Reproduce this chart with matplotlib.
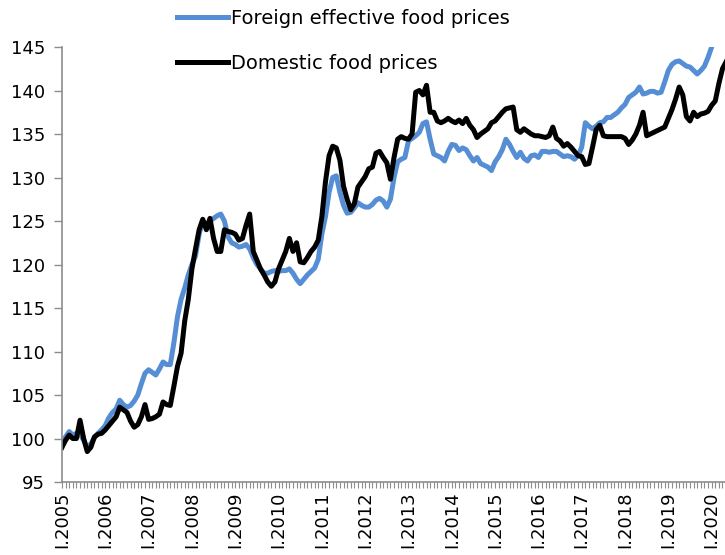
import matplotlib.pyplot as plt
from matplotlib.ticker import MultipleLocator, FixedLocator
import numpy as np

# monthly index values, Jan 2005 onwards
foreign = [
    99.0, 100.2, 100.8, 100.4, 100.6, 100.5, 99.8, 99.0, 99.4, 100.1, 100.6, 101.0,   # 2005
    101.5, 102.4, 103.0, 103.4, 104.4, 103.9, 103.6, 103.8, 104.3, 105.0, 106.3, 107.5,  # 2006
    107.9, 107.6, 107.3, 108.0, 108.8, 108.5, 108.5, 111.0, 114.0, 116.0, 117.3, 118.8,  # 2007
    120.0, 121.0, 123.5, 125.0, 124.6, 125.0, 125.3, 125.6, 125.8, 125.0, 123.2, 122.5,  # 2008
    122.3, 122.0, 122.1, 122.3, 121.8, 120.8, 120.0, 119.5, 119.0, 119.0, 119.2, 119.3,  # 2009
    119.2, 119.3, 119.3, 119.5, 119.0, 118.3, 117.8, 118.3, 118.8, 119.2, 119.6, 120.6,  # 2010
    123.5, 125.5, 128.3, 130.0, 130.2, 128.3, 126.8, 125.9, 126.0, 126.5, 127.1, 126.8,  # 2011
    126.6, 126.6, 126.9, 127.4, 127.6, 127.3, 126.6, 127.5, 130.0, 131.8, 132.1, 132.3,  # 2012
    134.2, 134.5, 134.8, 135.2, 136.2, 136.4, 134.4, 132.7, 132.5, 132.3, 131.9, 133.0,  # 2013
    133.8, 133.7, 133.1, 133.4, 133.2, 132.5, 131.9, 132.3, 131.6, 131.4, 131.2, 130.8,  # 2014
    131.8, 132.4, 133.2, 134.4, 133.8, 133.0, 132.3, 132.9, 132.2, 131.9, 132.5, 132.6,  # 2015
    132.3, 133.0, 133.0, 132.9, 133.0, 133.0, 132.7, 132.4, 132.5, 132.4, 132.1, 132.5,  # 2016
    133.5, 136.3, 135.9, 135.6, 135.9, 136.3, 136.4, 136.9, 136.9, 137.2, 137.5, 138.0,  # 2017
    138.4, 139.2, 139.5, 139.8, 140.4, 139.6, 139.7, 139.9, 139.9, 139.7, 139.8, 141.0,  # 2018
    142.3, 143.0, 143.3, 143.4, 143.1, 142.8, 142.7, 142.3, 141.9, 142.3, 142.8, 143.8,  # 2019
    145.0, 146.5, 147.5, 148.0, 148.5,                                                   # 2020
]
domestic = [
    99.0, 99.8, 100.4, 100.0, 100.0, 102.1, 100.0, 98.5, 99.0, 100.2, 100.5, 100.6,
    101.0, 101.5, 102.0, 102.5, 103.6, 103.3, 103.0, 102.0, 101.3, 101.6, 102.5, 103.9,
    102.2, 102.3, 102.5, 102.8, 104.2, 103.9, 103.8, 106.0, 108.3, 109.8, 113.5, 116.0,
    119.5, 121.8, 124.0, 125.2, 124.0, 125.3, 123.0, 121.5, 121.5, 124.0, 123.8, 123.7,
    123.5, 122.8, 123.0, 124.5, 125.8, 121.5, 120.5, 119.5, 118.8, 118.0, 117.5, 118.0,
    119.5, 120.5, 121.5, 123.0, 121.5, 122.5, 120.3, 120.2, 120.8, 121.5, 122.0, 122.8,
    125.5, 129.5, 132.5, 133.6, 133.4, 132.0, 129.0, 127.5, 126.3, 127.0, 128.9, 129.5,
    130.1, 131.0, 131.2, 132.8, 133.0, 132.3, 131.7, 129.8, 132.3, 134.4, 134.7, 134.5,
    134.4, 135.0, 139.8, 140.0, 139.5, 140.6, 137.5, 137.5, 136.5, 136.3, 136.5, 136.8,
    136.5, 136.3, 136.6, 136.2, 136.8, 136.0, 135.5, 134.6, 135.0, 135.3, 135.6, 136.3,
    136.5, 137.0, 137.5, 137.9, 138.0, 138.1, 135.5, 135.2, 135.6, 135.3, 135.0, 134.8,
    134.8, 134.7, 134.6, 134.8, 135.8, 134.5, 134.2, 133.6, 133.9, 133.5, 133.0, 132.5,
    132.4, 131.5, 131.6, 133.5, 135.5, 136.0, 134.8, 134.7, 134.7, 134.7, 134.7, 134.7,
    134.5, 133.8, 134.3, 135.0, 136.0, 137.5, 134.8, 135.0, 135.2, 135.4, 135.6, 135.8,
    136.8, 137.8, 139.0, 140.4, 139.5, 137.0, 136.5, 137.5, 137.0, 137.3, 137.4, 137.6,
    138.3, 138.8, 140.8, 142.5, 143.3,
]
years = list(range(2005, 2021))
year_labels = ['I.%d' % y for y in years]

fig = plt.figure(figsize=(7.25, 5.55), dpi=100)
ax = fig.add_axes([0.0855, 0.1315, 0.9145, 0.7838])

months = np.arange(len(foreign))
ax.plot(months, foreign, color='#558ED5', lw=3.6, label='Foreign effective food prices',
        solid_joinstyle='round')
ax.plot(months, domestic, color='black', lw=3.6, label='Domestic food prices',
        solid_joinstyle='round')

ax.set_xlim(0, 183.7)
ax.set_ylim(95, 145)
ax.yaxis.set_major_locator(MultipleLocator(5))
ax.set_xticks([12 * i for i in range(len(years))])
ax.set_xticklabels(year_labels, rotation=90, fontsize=13)
ax.xaxis.set_minor_locator(FixedLocator(months))
ax.tick_params(axis='y', labelsize=13, length=6, width=1, color='#8c8c8c', pad=6)
ax.tick_params(axis='x', which='both', length=4, width=0.8, color='#8c8c8c', pad=3)

for s in ['top', 'right']:
    ax.spines[s].set_visible(False)
for s in ['left', 'bottom']:
    ax.spines[s].set_color('#8c8c8c')
    ax.spines[s].set_linewidth(1.2)

fig.legend(loc='upper left', bbox_to_anchor=(177 / 725, 1 - 9 / 555),
           frameon=False, fontsize=14, handlelength=2.6, handletextpad=0.2,
           labelspacing=1.32, borderpad=0, borderaxespad=0)

fig.savefig('out.png', dpi=100)
